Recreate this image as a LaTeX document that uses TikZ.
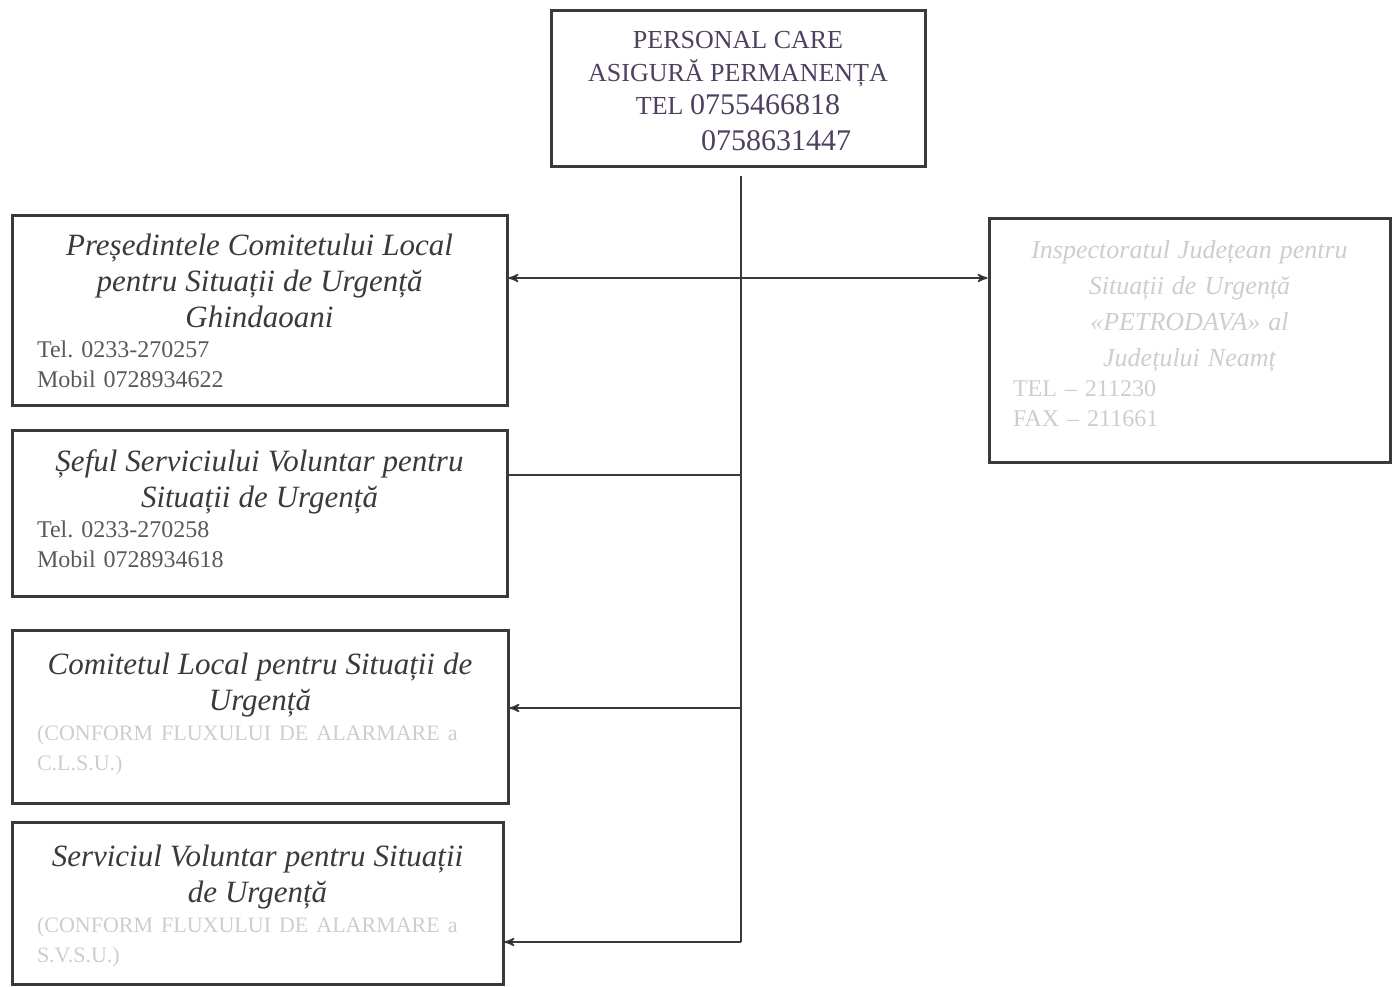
\documentclass[tikz,border=0pt]{standalone}
\usepackage{fontspec}
\setmainfont{Liberation Serif}
\usepackage{tikz}
\usetikzlibrary{arrows,positioning}

\definecolor{ink}{HTML}{3A3A3A}
\definecolor{plum}{HTML}{4E4060}
\definecolor{faint}{HTML}{CDCDCD}

\begin{document}
\frenchspacing
\begin{tikzpicture}[x=0.5pt,y=-0.5pt,>=stealth',thick,
  box node/.style={rectangle,draw=ink,line width=1.5pt,inner sep=0pt},
  title node/.style={inner sep=0pt,text=ink,align=left,
    font=\fontsize{12}{15}\selectfont},
  head node/.style={inner sep=0pt,text=plum,align=center,
    font=\fontsize{13}{16.5}\selectfont}]
  \useasboundingbox (0,0) rectangle (1397,986);

  % boxes
  \node[box node,minimum width=187pt,minimum height=78pt] (top) at (738,88) {};
  \node[box node,minimum width=247.5pt,minimum height=95pt] (pres) at (259.5,310) {};
  \node[box node,minimum width=247.5pt,minimum height=83pt] (sef) at (259.5,513) {};
  \node[box node,minimum width=248pt,minimum height=86.5pt] (clsu) at (260,716.5) {};
  \node[box node,minimum width=245.5pt,minimum height=81pt] (svsu) at (257.5,903) {};
  \node[box node,minimum width=200.5pt,minimum height=122pt] (isu) at (1189.5,340) {};

  % texts
  \node[head node,below=11pt of top.north] (top text)
    {PERSONAL CARE\\
     ASIGURĂ PERMANENȚA\\
     TEL {\fontsize{15}{16.5}\selectfont 0755466818}\\[1.5pt]
     \hspace*{38pt}{\fontsize{15}{16.5}\selectfont 0758631447}};
  \node[title node,text width=222.5pt,below=10pt of pres.north] (pres text)
    {{\centering\fontsize{15.5}{18}\selectfont\itshape
      Președintele Comitetului Local\\ pentru Situații de Urgență\\ Ghindaoani\par}
     \color{black!65}Tel. 0233-270257\\ Mobil 0728934622};
  \node[title node,text width=222.5pt,below=10pt of sef.north] (sef text)
    {{\centering\fontsize{15.5}{18}\selectfont\itshape
      Șeful Serviciului Voluntar pentru\\ Situații de Urgență\par}
     \color{black!65}Tel. 0233-270258\\ Mobil 0728934618};
  \node[title node,text width=223pt,below=12pt of clsu.north] (clsu text)
    {{\centering\fontsize{15.5}{18}\selectfont\itshape
      Comitetul Local pentru Situații de\\ Urgență\par}
     \color{faint}\fontsize{11}{15}\selectfont
     (CONFORM FLUXULUI DE ALARMARE a\\ C.L.S.U.)};
  \node[title node,text width=220.5pt,below=12pt of svsu.north] (svsu text)
    {{\centering\fontsize{15.5}{18}\selectfont\itshape
      Serviciul Voluntar pentru Situații\\ de Urgență\par}
     \color{faint}\fontsize{11}{15}\selectfont
     (CONFORM FLUXULUI DE ALARMARE a\\ S.V.S.U.)};
  \node[title node,text=faint,text width=176.5pt,below=11.5pt of isu.north] (isu text)
    {{\centering\fontsize{13}{18}\selectfont\itshape
      Inspectoratul Județean pentru\\ Situații de Urgență\\
      «PETRODAVA» al\\ Județului Neamț\par}
     TEL – 211230\\ FAX – 211661};

  % bus
  \coordinate (bus top) at (741,176);
  \coordinate (j1) at (741,278);
  \coordinate (j2) at (741,475);
  \coordinate (j3) at (741,708);
  \coordinate (j4) at (741,942);

  \path[draw=ink]
    (bus top) edge (j4)
    (j1) edge [->] (j1 -| pres.east)
    (j1) edge [->] (j1 -| isu.west)
    (j2) edge (j2 -| sef.east)
    (j3) edge [->] (j3 -| clsu.east)
    (j4) edge [->] (j4 -| svsu.east);
\end{tikzpicture}
\end{document}
